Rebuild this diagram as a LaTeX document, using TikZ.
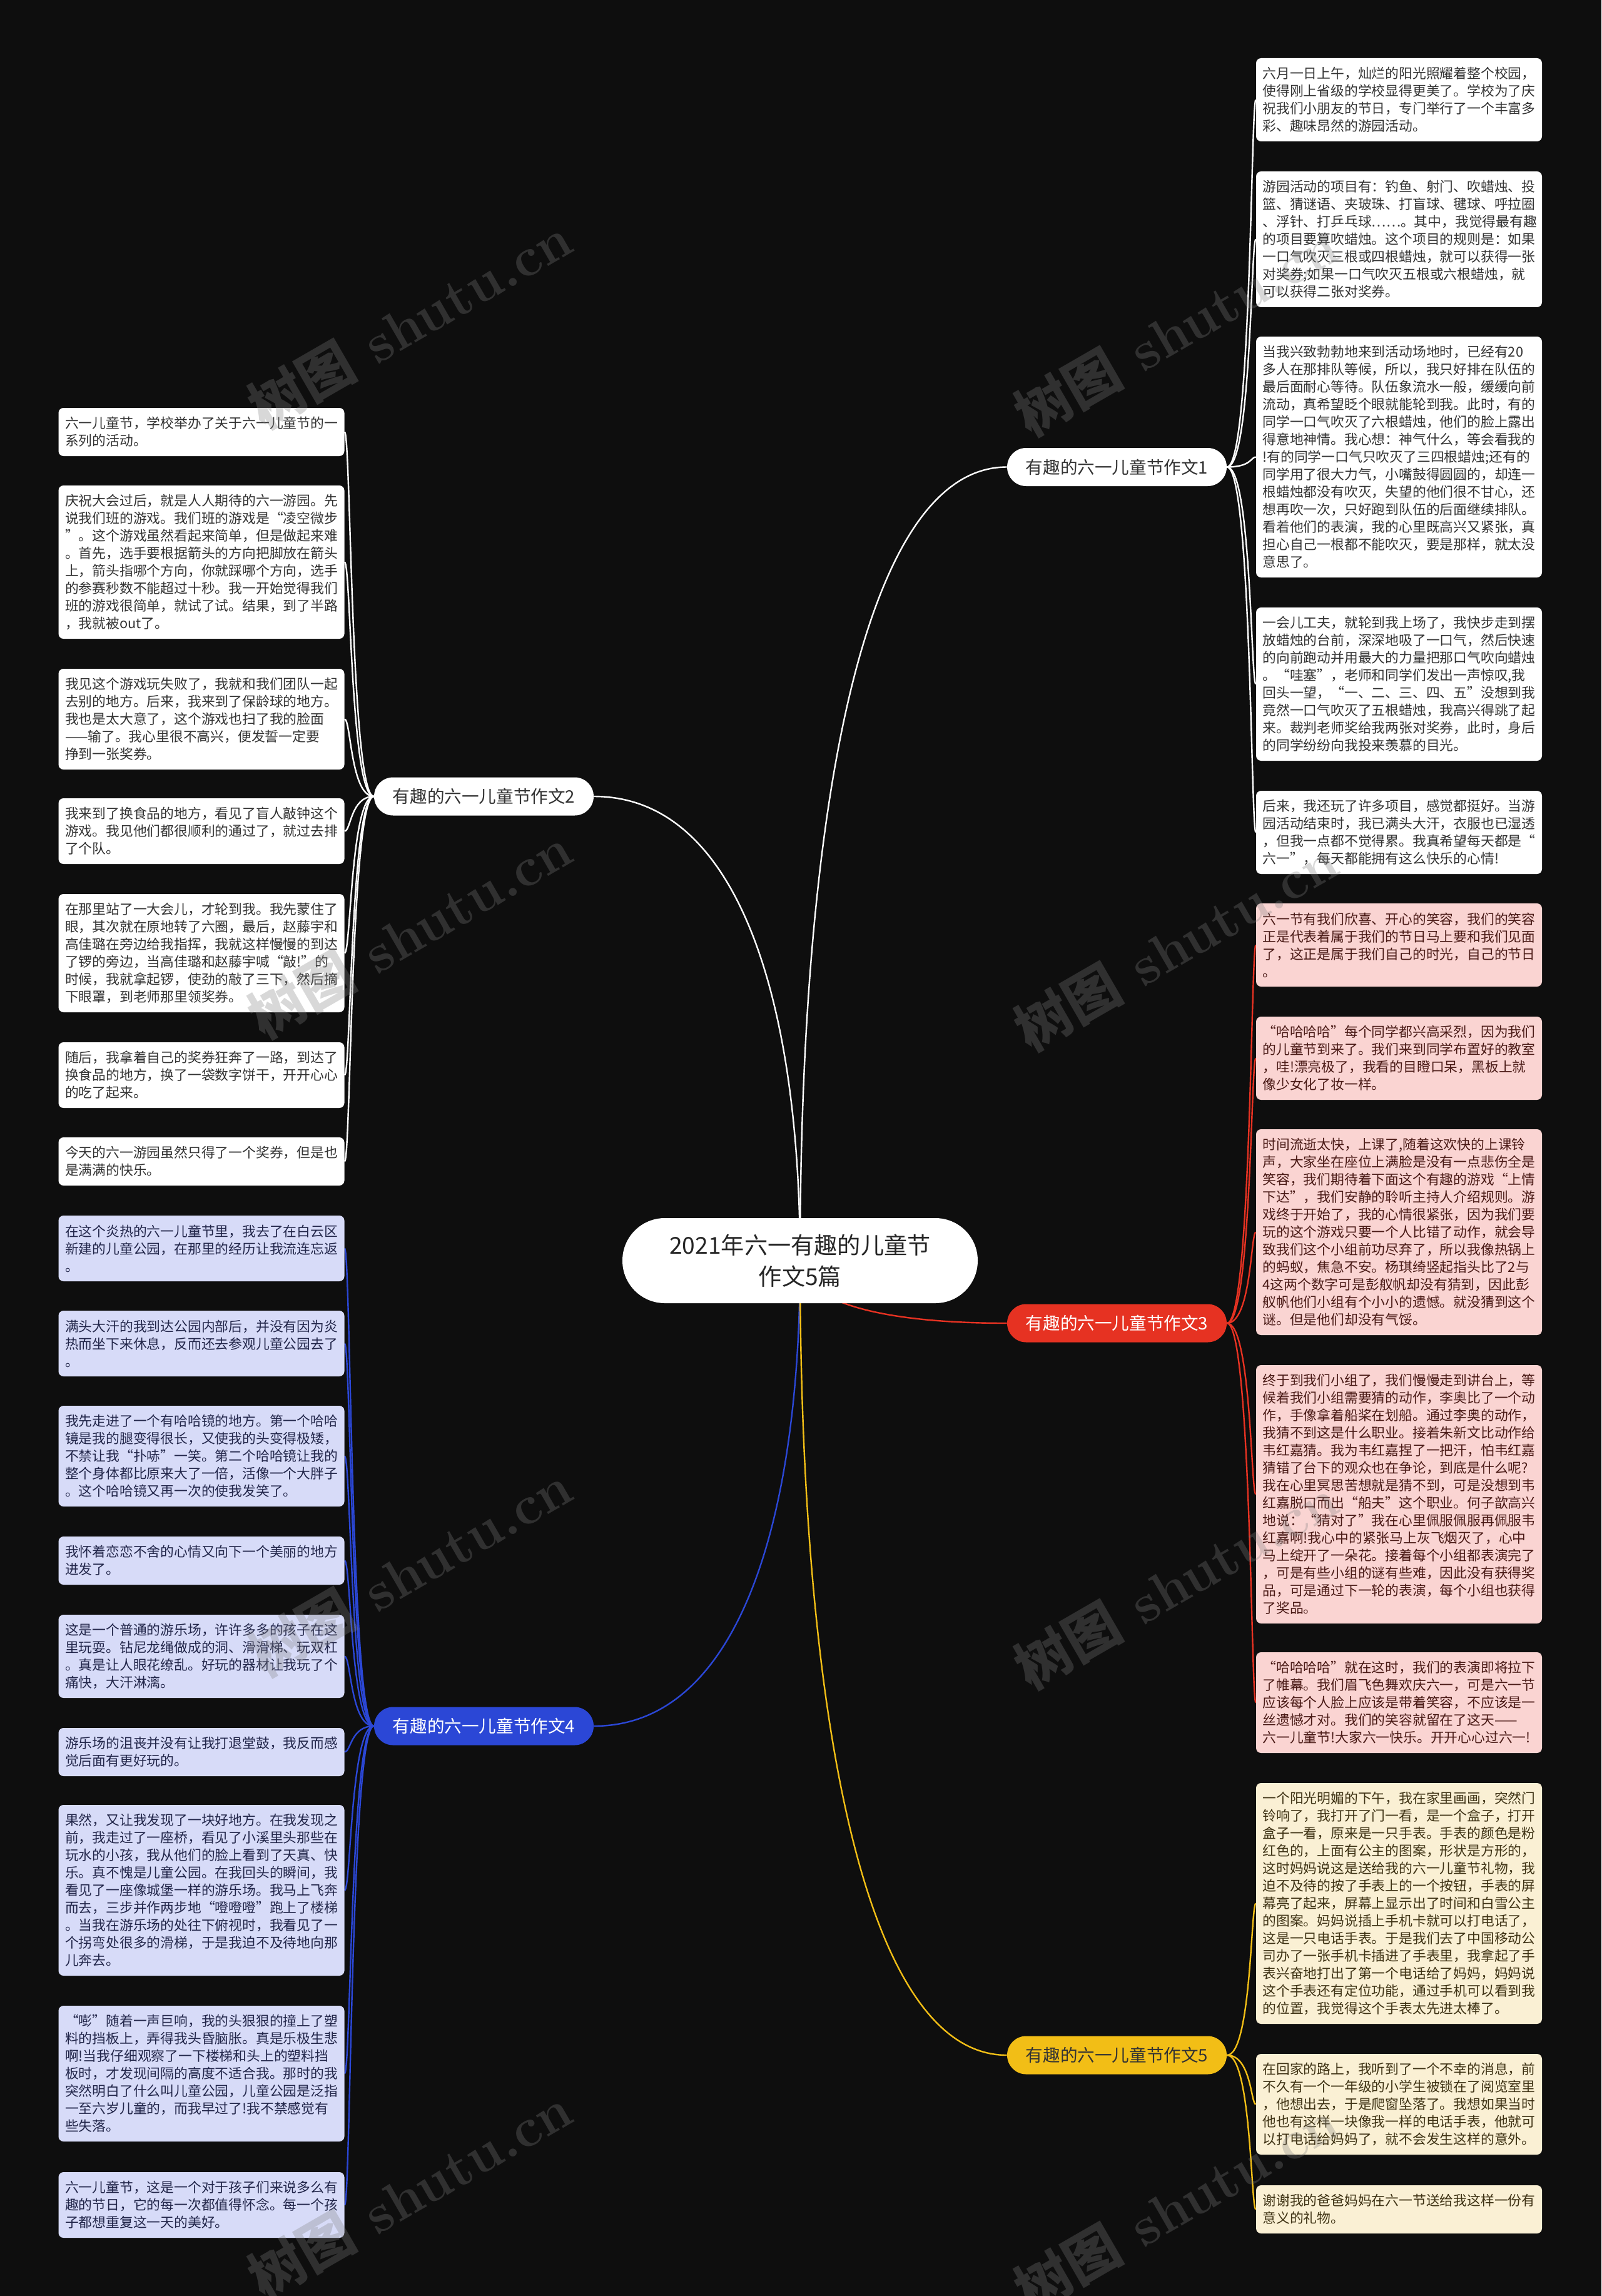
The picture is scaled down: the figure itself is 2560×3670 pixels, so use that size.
\documentclass[tikz,border=0pt]{standalone}
\usepackage{fontspec}
\newfontfamily\cjk{Noto Sans CJK SC}
\usetikzlibrary{calc}
\pgfdeclarelayer{bg}
\pgfsetlayers{bg,main}
\definecolor{bgcol}{HTML}{0E0E0E}
\definecolor{inkgray}{HTML}{333333}
\definecolor{redbr}{HTML}{E63222}
\definecolor{bluebr}{HTML}{2B47D6}
\definecolor{yelbr}{HTML}{F2BE16}
\definecolor{redleaf}{HTML}{FAD4D2}
\definecolor{blueleaf}{HTML}{D7DBF8}
\definecolor{yelleaf}{HTML}{FAF0D4}
\definecolor{redink}{HTML}{4A1A16}
\definecolor{blueink}{HTML}{22264A}
\definecolor{yelink}{HTML}{3E3214}
\definecolor{wmgray}{HTML}{808080}

\begin{document}
\begin{tikzpicture}[x=0.5pt, y=-0.5pt,
  maintopic/.style={rectangle, rounded corners=33.9pt, fill=white, text=black!85, minimum width=284pt, minimum height=68pt, inner sep=0pt, align=center, font=\cjk\fontsize{18.6}{25}\selectfont},
  subtopic/.style={rectangle, rounded corners=15.2pt, minimum width=175.5pt, minimum height=30.5pt, inner sep=0pt, font=\cjk\fontsize{13.8}{16}\selectfont},
  leaf/.style={rectangle, rounded corners=4pt, text width=218pt, inner xsep=5.25pt, inner ysep=0pt, align=left, font=\cjk\fontsize{10.9}{14}\selectfont},
  nlines/.style={minimum height=14pt*#1+10.5pt},
  wleaf/.style={leaf, fill=white, text=inkgray},
  rleaf/.style={leaf, fill=redleaf, text=redink},
  bleaf/.style={leaf, fill=blueleaf, text=blueink},
  yleaf/.style={leaf, fill=yelleaf, text=yelink},
  wline/.style={draw=white, line width=1.2pt},
  rline/.style={draw=redbr, line width=1.2pt},
  bline/.style={draw=bluebr, line width=1.2pt},
  yline/.style={draw=yelbr, line width=1.2pt},
  wmark/.style={rotate=30, text=wmgray, opacity=0.3, font=\fontsize{44}{44}\selectfont\bfseries}]
  \useasboundingbox (0,0) rectangle (2560,3670);

  % Centre and branches
  \node[maintopic] (root) at (1279,2015) {2021年六一有趣的儿童节\\作文5篇};
  \node[subtopic, fill=white, text=inkgray] (b1) at (1785.5,746.5) {有趣的六一儿童节作文1};
  \node[subtopic, fill=white, text=inkgray] (b2) at (773.5,1273) {有趣的六一儿童节作文2};
  \node[subtopic, fill=redbr, text=white] (b3) at (1785.5,2115) {有趣的六一儿童节作文3};
  \node[subtopic, fill=bluebr, text=white] (b4) at (773.5,2759) {有趣的六一儿童节作文4};
  \node[subtopic, fill=yelbr, text=inkgray] (b5) at (1785.5,3285) {有趣的六一儿童节作文5};

  % Essay 1
  \node[wleaf, nlines=4] (r1a) at (2236.5,159.5) {六月一日上午，灿烂的阳光照耀着整个校园，\\使得刚上省级的学校显得更美了。学校为了庆\\祝我们小朋友的节日，专门举行了一个丰富多\\彩、趣味昂然的游园活动。};
  \node[wleaf, nlines=7] (r1b) at (2236.5,382.5) {游园活动的项目有：钓鱼、射门、吹蜡烛、投\\篮、猜谜语、夹玻珠、打盲球、毽球、呼拉圈\\、浮针、打乒乓球……。其中，我觉得最有趣\\的项目要算吹蜡烛。这个项目的规则是：如果\\一口气吹灭三根或四根蜡烛，就可以获得一张\\对奖券;如果一口气吹灭五根或六根蜡烛，就\\可以获得二张对奖券。};
  \node[wleaf, nlines=13] (r1c) at (2236.5,730.5) {当我兴致勃勃地来到活动场地时，已经有20\\多人在那排队等候，所以，我只好排在队伍的\\最后面耐心等待。队伍象流水一般，缓缓向前\\流动，真希望眨个眼就能轮到我。此时，有的\\同学一口气吹灭了六根蜡烛，他们的脸上露出\\得意地神情。我心想：神气什么，等会看我的\\!有的同学一口气只吹灭了三四根蜡烛;还有的\\同学用了很大力气，小嘴鼓得圆圆的，却连一\\根蜡烛都没有吹灭，失望的他们很不甘心，还\\想再吹一次，只好跑到队伍的后面继续排队。\\看着他们的表演，我的心里既高兴又紧张，真\\担心自己一根都不能吹灭，要是那样，就太没\\意思了。};
  \node[wleaf, nlines=8] (r1d) at (2236.5,1093.5) {一会儿工夫，就轮到我上场了，我快步走到摆\\放蜡烛的台前，深深地吸了一口气，然后快速\\的向前跑动并用最大的力量把那口气吹向蜡烛\\。“哇塞”，老师和同学们发出一声惊叹,我\\回头一望，“一、二、三、四、五”没想到我\\竟然一口气吹灭了五根蜡烛，我高兴得跳了起\\来。裁判老师奖给我两张对奖券，此时，身后\\的同学纷纷向我投来羡慕的目光。};
  \node[wleaf, nlines=4] (r1e) at (2236.5,1330.5) {后来，我还玩了许多项目，感觉都挺好。当游\\园活动结束时，我已满头大汗，衣服也已湿透\\，但我一点都不觉得累。我真希望每天都是“\\六一”，每天都能拥有这么快乐的心情!};

  % Essay 3
  \node[rleaf, nlines=4] (r3a) at (2236.5,1510.5) {六一节有我们欣喜、开心的笑容，我们的笑容\\正是代表着属于我们的节日马上要和我们见面\\了，这正是属于我们自己的时光，自己的节日\\。};
  \node[rleaf, nlines=4] (r3b) at (2236.5,1691.5) {“哈哈哈哈”每个同学都兴高采烈，因为我们\\的儿童节到来了。我们来到同学布置好的教室\\，哇!漂亮极了，我看的目瞪口呆，黑板上就\\像少女化了妆一样。};
  \node[rleaf, nlines=11] (r3c) at (2236.5,1969.5) {时间流逝太快，上课了,随着这欢快的上课铃\\声，大家坐在座位上满脸是没有一点悲伤全是\\笑容，我们期待着下面这个有趣的游戏“上情\\下达”，我们安静的聆听主持人介绍规则。游\\戏终于开始了，我的心情很紧张，因为我们要\\玩的这个游戏只要一个人比错了动作，就会导\\致我们这个小组前功尽弃了，所以我像热锅上\\的蚂蚁，焦急不安。杨琪绮竖起指头比了2与\\4这两个数字可是彭舣帆却没有猜到，因此彭\\舣帆他们小组有个小小的遗憾。就没猜到这个\\谜。但是他们却没有气馁。};
  \node[rleaf, nlines=14] (r3d) at (2236.5,2388.5) {终于到我们小组了，我们慢慢走到讲台上，等\\候着我们小组需要猜的动作，李奥比了一个动\\作，手像拿着船桨在划船。通过李奥的动作，\\我猜不到这是什么职业。接着朱新文比动作给\\韦红嘉猜。我为韦红嘉捏了一把汗，怕韦红嘉\\猜错了台下的观众也在争论，到底是什么呢?\\我在心里冥思苦想就是猜不到，可是没想到韦\\红嘉脱口而出“船夫”这个职业。何子歆高兴\\地说：“猜对了”我在心里佩服佩服再佩服韦\\红嘉啊!我心中的紧张马上灰飞烟灭了，心中\\马上绽开了一朵花。接着每个小组都表演完了\\，可是有些小组的谜有些难，因此没有获得奖\\品，可是通过下一轮的表演，每个小组也获得\\了奖品。};
  \node[rleaf, nlines=5] (r3e) at (2236.5,2721.5) {“哈哈哈哈”就在这时，我们的表演即将拉下\\了帷幕。我们眉飞色舞欢庆六一，可是六一节\\应该每个人脸上应该是带着笑容，不应该是一\\丝遗憾才对。我们的笑容就留在了这天——\\六一儿童节!大家六一快乐。开开心心过六一!};

  % Essay 5
  \node[yleaf, nlines=13] (r5a) at (2236.5,3042.5) {一个阳光明媚的下午，我在家里画画，突然门\\铃响了，我打开了门一看，是一个盒子，打开\\盒子一看，原来是一只手表。手表的颜色是粉\\红色的，上面有公主的图案，形状是方形的，\\这时妈妈说这是送给我的六一儿童节礼物，我\\迫不及待的按了手表上的一个按钮，手表的屏\\幕亮了起来，屏幕上显示出了时间和白雪公主\\的图案。妈妈说插上手机卡就可以打电话了，\\这是一只电话手表。于是我们去了中国移动公\\司办了一张手机卡插进了手表里，我拿起了手\\表兴奋地打出了第一个电话给了妈妈，妈妈说\\这个手表还有定位功能，通过手机可以看到我\\的位置，我觉得这个手表太先进太棒了。};
  \node[yleaf, nlines=5] (r5b) at (2236.5,3363.5) {在回家的路上，我听到了一个不幸的消息，前\\不久有一个一年级的小学生被锁在了阅览室里\\，他想出去，于是爬窗坠落了。我想如果当时\\他也有这样一块像我一样的电话手表，他就可\\以打电话给妈妈了，就不会发生这样的意外。};
  \node[yleaf, nlines=2] (r5c) at (2236.5,3531.5) {谢谢我的爸爸妈妈在六一节送给我这样一份有\\意义的礼物。};

  % Essay 2
  \node[wleaf, nlines=2] (l2a) at (322,690.5) {六一儿童节，学校举办了关于六一儿童节的一\\系列的活动。};
  \node[wleaf, nlines=8] (l2b) at (322,898.5) {庆祝大会过后，就是人人期待的六一游园。先\\说我们班的游戏。我们班的游戏是“凌空微步\\”。这个游戏虽然看起来简单，但是做起来难\\。首先，选手要根据箭头的方向把脚放在箭头\\上，箭头指哪个方向，你就踩哪个方向，选手\\的参赛秒数不能超过十秒。我一开始觉得我们\\班的游戏很简单，就试了试。结果，到了半路\\，我就被out了。};
  \node[wleaf, nlines=5] (l2c) at (322,1149.5) {我见这个游戏玩失败了，我就和我们团队一起\\去别的地方。后来，我来到了保龄球的地方。\\我也是太大意了，这个游戏也扫了我的脸面\\——输了。我心里很不高兴，便发誓一定要\\挣到一张奖券。};
  \node[wleaf, nlines=3] (l2d) at (322,1328.5) {我来到了换食品的地方，看见了盲人敲钟这个\\游戏。我见他们都很顺利的通过了，就过去排\\了个队。};
  \node[wleaf, nlines=6] (l2e) at (322,1523.5) {在那里站了一大会儿，才轮到我。我先蒙住了\\眼，其次就在原地转了六圈，最后，赵藤宇和\\高佳璐在旁边给我指挥，我就这样慢慢的到达\\了锣的旁边，当高佳璐和赵藤宇喊“敲!”的\\时候，我就拿起锣，使劲的敲了三下，然后摘\\下眼罩，到老师那里领奖券。};
  \node[wleaf, nlines=3] (l2f) at (322,1718.5) {随后，我拿着自己的奖券狂奔了一路，到达了\\换食品的地方，换了一袋数字饼干，开开心心\\的吃了起来。};
  \node[wleaf, nlines=2] (l2g) at (322,1856.5) {今天的六一游园虽然只得了一个奖券，但是也\\是满满的快乐。};

  % Essay 4
  \node[bleaf, nlines=3] (l4a) at (322,1995.5) {在这个炎热的六一儿童节里，我去了在白云区\\新建的儿童公园，在那里的经历让我流连忘返\\。};
  \node[bleaf, nlines=3] (l4b) at (322,2147.5) {满头大汗的我到达公园内部后，并没有因为炎\\热而坐下来休息，反而还去参观儿童公园去了\\。};
  \node[bleaf, nlines=5] (l4c) at (322,2327.5) {我先走进了一个有哈哈镜的地方。第一个哈哈\\镜是我的腿变得很长，又使我的头变得极矮，\\不禁让我“扑哧”一笑。第二个哈哈镜让我的\\整个身体都比原来大了一倍，活像一个大胖子\\。这个哈哈镜又再一次的使我发笑了。};
  \node[bleaf, nlines=2] (l4d) at (322,2494.5) {我怀着恋恋不舍的心情又向下一个美丽的地方\\进发了。};
  \node[bleaf, nlines=4] (l4e) at (322,2647.5) {这是一个普通的游乐场，许许多多的孩子在这\\里玩耍。钻尼龙绳做成的洞、滑滑梯、玩双杠\\。真是让人眼花缭乱。好玩的器材让我玩了个\\痛快，大汗淋漓。};
  \node[bleaf, nlines=2] (l4f) at (322,2800.5) {游乐场的沮丧并没有让我打退堂鼓，我反而感\\觉后面有更好玩的。};
  \node[bleaf, nlines=9] (l4g) at (322,3021.5) {果然，又让我发现了一块好地方。在我发现之\\前，我走过了一座桥，看见了小溪里头那些在\\玩水的小孩，我从他们的脸上看到了天真、快\\乐。真不愧是儿童公园。在我回头的瞬间，我\\看见了一座像城堡一样的游乐场。我马上飞奔\\而去，三步并作两步地“噔噔噔”跑上了楼梯\\。当我在游乐场的处往下俯视时，我看见了一\\个拐弯处很多的滑梯，于是我迫不及待地向那\\儿奔去。};
  \node[bleaf, nlines=7] (l4h) at (322,3314.5) {“嘭”随着一声巨响，我的头狠狠的撞上了塑\\料的挡板上，弄得我头昏脑胀。真是乐极生悲\\啊!当我仔细观察了一下楼梯和头上的塑料挡\\板时，才发现间隔的高度不适合我。那时的我\\突然明白了什么叫儿童公园，儿童公园是泛指\\一至六岁儿童的，而我早过了!我不禁感觉有\\些失落。};
  \node[bleaf, nlines=3] (l4i) at (322,3524.5) {六一儿童节，这是一个对于孩子们来说多么有\\趣的节日，它的每一次都值得怀念。每一个孩\\子都想重复这一天的美好。};

  \begin{pgfonlayer}{bg}
    \fill[bgcol] (0,0) rectangle (2560,3670);
    % Centre to branches
    \draw[wline] (root.center) .. controls (1279,1304) and (1378,746.5) .. (b1.west);
    \draw[wline] (root.center) .. controls (1279,1600) and (1180,1273) .. (b2.east);
    \draw[rline] (root.center) .. controls (1279,2071) and (1378,2115) .. (b3.west);
    \draw[bline] (root.center) .. controls (1279,2432) and (1180,2759) .. (b4.east);
    \draw[yline] (root.center) .. controls (1279,2726) and (1378,3285) .. (b5.west);
    % Branches to leaves
    \foreach \n in {r1a,r1b,r1c,r1d,r1e}
      \draw[wline] (b1.east) .. controls ($(b1.east)+(39,0)$) and ($(\n.west)+(-8,0)$) .. (\n.west);
    \foreach \n in {r3a,r3b,r3c,r3d,r3e}
      \draw[rline] (b3.east) .. controls ($(b3.east)+(39,0)$) and ($(\n.west)+(-8,0)$) .. (\n.west);
    \foreach \n in {r5a,r5b,r5c}
      \draw[yline] (b5.east) .. controls ($(b5.east)+(39,0)$) and ($(\n.west)+(-8,0)$) .. (\n.west);
    \foreach \n in {l2a,l2b,l2c,l2d,l2e,l2f,l2g}
      \draw[wline] (b2.west) .. controls ($(b2.west)+(-37,0)$) and ($(\n.east)+(10,0)$) .. (\n.east);
    \foreach \n in {l4a,l4b,l4c,l4d,l4e,l4f,l4g,l4h,l4i}
      \draw[bline] (b4.west) .. controls ($(b4.west)+(-37,0)$) and ($(\n.east)+(10,0)$) .. (\n.east);
  \end{pgfonlayer}

  % Watermarks
  \foreach \wx/\wy [count=\i] in {655/515, 1880/527, 655/1490, 1880/1510, 655/2510, 1880/2530, 655/3505, 1880/3525}
    \node[wmark] (wm\i) at (\wx,\wy) {{\cjk 树图} shutu.cn};
\end{tikzpicture}
\end{document}
